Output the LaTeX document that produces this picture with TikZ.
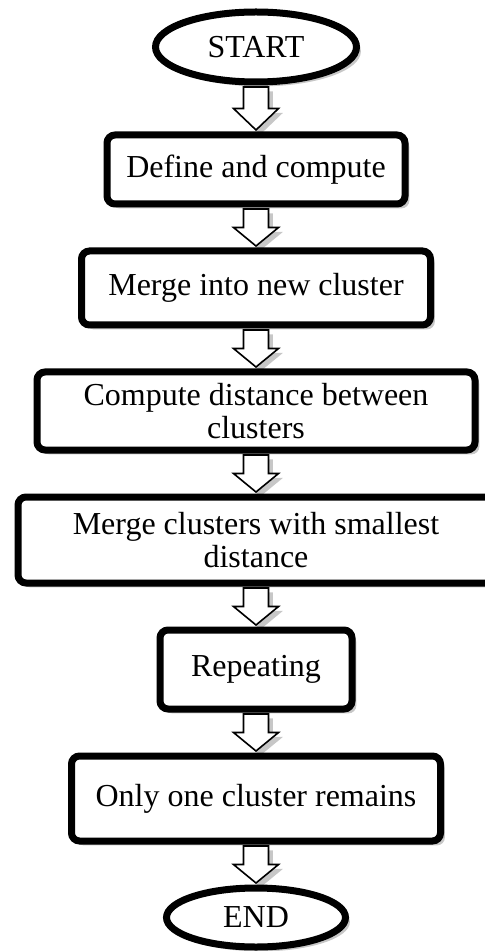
\documentclass[tikz,border=0pt]{standalone}
\usepackage{fontspec}
\setmainfont{Liberation Serif}
\usetikzlibrary{positioning,calc,shadows,shapes.geometric}

\begin{document}
\begin{tikzpicture}[node distance=20pt,
	every node/.style={font=\fontsize{16}{16.5}\selectfont},
	soft shadow/.style={drop shadow={shadow xshift=2.2pt, shadow yshift=-2.2pt, opacity=0.22, fill=black}},
	term node/.style={ellipse, draw, line width=3.5pt, fill=white, inner sep=0pt, soft shadow},
	box node/.style={rectangle, rounded corners=4pt, draw, line width=3.5pt, fill=white, align=center, inner sep=0pt, soft shadow},
	flow arrow/.style={draw, fill=white, line width=0.8pt, soft shadow,
		to path={let \p1=($(\tikztostart)+(0,-0.75pt)$), \p2=($(\tikztotarget)+(0,0.75pt)$) in
			(\x1-6.25pt,\y1) -- (\x1+6.25pt,\y1) -- (\x1+6.25pt,{0.5*(\y1+\y2)}) -- (\x1+11.25pt,{0.5*(\y1+\y2)})
			-- (\x1,\y2) -- (\x1-11.25pt,{0.5*(\y1+\y2)}) -- (\x1-6.25pt,{0.5*(\y1+\y2)}) -- cycle}}]
	\useasboundingbox (0,0) rectangle (242.5pt,-475.5pt);
	
	% Nodes
	\node[term node, minimum width=100.5pt, minimum height=35pt] (start) at (128pt,-23.5pt) {START};
	\node[box node, minimum width=149pt, minimum height=34.5pt] (define) [below=23pt of start] {Define and compute};
	\node[box node, minimum width=174.5pt, minimum height=37pt] (mergenew) [below=of define] {Merge into new cluster};
	\node[box node, minimum width=219pt, minimum height=39pt] (compdist) [below=of mergenew] {Compute distance between\\clusters};
	\node[box node, minimum width=238pt, minimum height=43pt] (mergesmall) [below=of compdist] {Merge clusters with smallest\\distance};
	\node[box node, minimum width=96pt, minimum height=39.5pt] (repeat) [below=of mergesmall] {Repeating};
	\node[box node, minimum width=184.5pt, minimum height=42.5pt] (onlyone) [below=of repeat] {Only one cluster remains};
	\node[term node, minimum width=89.5pt, minimum height=29.5pt] (end) [below=of onlyone] {END};
	
	% Arrows
	\foreach \a/\b in {start/define, define/mergenew, mergenew/compdist, compdist/mergesmall,
		mergesmall/repeat, repeat/onlyone, onlyone/end}
		\draw[flow arrow] (\a.south) to (\b.north);
	
\end{tikzpicture}
\end{document}
